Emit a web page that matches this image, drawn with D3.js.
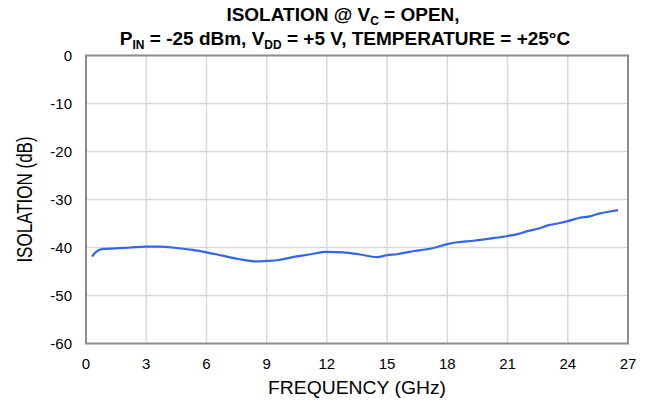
<!DOCTYPE html>
<html>
<head>
<meta charset="utf-8">
<script src="https://cdn.jsdelivr.net/npm/d3@7"></script>
<style>
  body { margin: 0; background: #fff; }
  svg { font-family: "Liberation Sans", Arial, sans-serif; }
</style>
</head>
<body>
<div id="chart"></div>
<script>
// isolation curve
const freqGHz = [0.3, 0.5, 0.85, 1.5, 2.2, 3, 3.7, 4.5, 5.3, 6, 6.8, 7.6, 8.5, 9, 9.6, 10.3, 11.2, 12, 12.8, 13.6, 14.5, 15, 15.5, 16.1, 16.6, 17.3, 18, 18.5, 19.3, 20.2, 21, 21.5, 22, 22.5, 23, 23.6, 24, 24.6, 25.1, 25.6, 26.1, 26.5];
const isolationDb = [-41.9, -40.9, -40.3, -40.2, -40.0, -39.8, -39.8, -40.1, -40.5, -41.0, -41.7, -42.4, -42.9, -42.8, -42.6, -42.0, -41.4, -40.9, -41.0, -41.4, -42.0, -41.6, -41.4, -40.9, -40.6, -40.1, -39.3, -38.9, -38.6, -38.1, -37.6, -37.2, -36.6, -36.1, -35.4, -34.9, -34.5, -33.8, -33.5, -32.9, -32.5, -32.2];

const xTicks = [0, 3, 6, 9, 12, 15, 18, 21, 24, 27];
const yTicks = [0, -10, -20, -30, -40, -50, -60];

const width = 650, height = 405;
const margin = { top: 55.5, right: 22, bottom: 61.5, left: 86 };

const svg = d3.select("#chart").append("svg")
    .attr("width", width)
    .attr("height", height);

const x = d3.scaleLinear().domain([0, 27]).range([margin.left, width - margin.right]);
const y = d3.scaleLinear().domain([-60, 0]).range([height - margin.bottom, margin.top]);

// gridlines
svg.append("g")
    .selectAll("line")
    .data(xTicks.slice(1, -1))
    .join("line")
    .attr("x1", d => x(d)).attr("x2", d => x(d))
    .attr("y1", y(0)).attr("y2", y(-60))
    .attr("stroke", "#d9d9d9").attr("stroke-width", 1.5);

svg.append("g")
    .selectAll("line")
    .data(yTicks.slice(1, -1))
    .join("line")
    .attr("x1", x(0)).attr("x2", x(27))
    .attr("y1", d => y(d)).attr("y2", d => y(d))
    .attr("stroke", "#d9d9d9").attr("stroke-width", 1.5);

// frame
svg.append("rect")
    .attr("x", x(0)).attr("y", y(0))
    .attr("width", x(27) - x(0)).attr("height", y(-60) - y(0))
    .attr("fill", "none").attr("stroke", "#8c8c8c").attr("stroke-width", 2);

// tick labels
svg.append("g")
    .selectAll("text")
    .data(xTicks)
    .join("text")
    .attr("x", d => x(d)).attr("y", 369)
    .attr("text-anchor", "middle")
    .attr("font-size", 15)
    .text(d => d);

svg.append("g")
    .selectAll("text")
    .data(yTicks)
    .join("text")
    .attr("x", 72).attr("y", d => y(d) + 5.5)
    .attr("text-anchor", "end")
    .attr("font-size", 15)
    .text(d => d);

// curve
const line = d3.line()
    .x((d, i) => x(freqGHz[i]))
    .y(d => y(d))
    .curve(d3.curveMonotoneX);

svg.append("path")
    .datum(isolationDb)
    .attr("d", line)
    .attr("fill", "none")
    .attr("stroke", "#3366f0")
    .attr("stroke-width", 2.2);

// axis titles
svg.append("text")
    .attr("x", 357).attr("y", 394)
    .attr("text-anchor", "middle")
    .attr("font-size", 17.5)
    .attr("textLength", 178)
    .attr("lengthAdjust", "spacingAndGlyphs")
    .text("FREQUENCY (GHz)");

svg.append("text")
    .attr("transform", `translate(32, ${(y(0) + y(-60)) / 2}) scale(1.25, 1) rotate(-90)`)
    .attr("text-anchor", "middle")
    .attr("font-size", 17)
    .text("ISOLATION (dB)");

// title with subscripts
const title = svg.append("text")
    .attr("text-anchor", "middle")
    .attr("font-size", 19)
    .attr("font-weight", "bold");

const t1 = title.append("tspan").attr("x", 343).attr("y", 21);
t1.append("tspan").text("ISOLATION @ V");
t1.append("tspan").attr("font-size", 12).attr("dy", 3.5).text("C");
t1.append("tspan").attr("dy", -3.5).text(" = OPEN,");

const t2 = title.append("tspan").attr("x", 345).attr("y", 44.5);
t2.append("tspan").text("P");
t2.append("tspan").attr("font-size", 12).attr("dy", 4).text("IN");
t2.append("tspan").attr("dy", -4).text(" = -25 dBm, V");
t2.append("tspan").attr("font-size", 12).attr("dy", 4).text("DD");
t2.append("tspan").attr("dy", -4).text(" = +5 V, TEMPERATURE = +25°C");
</script>
</body>
</html>
